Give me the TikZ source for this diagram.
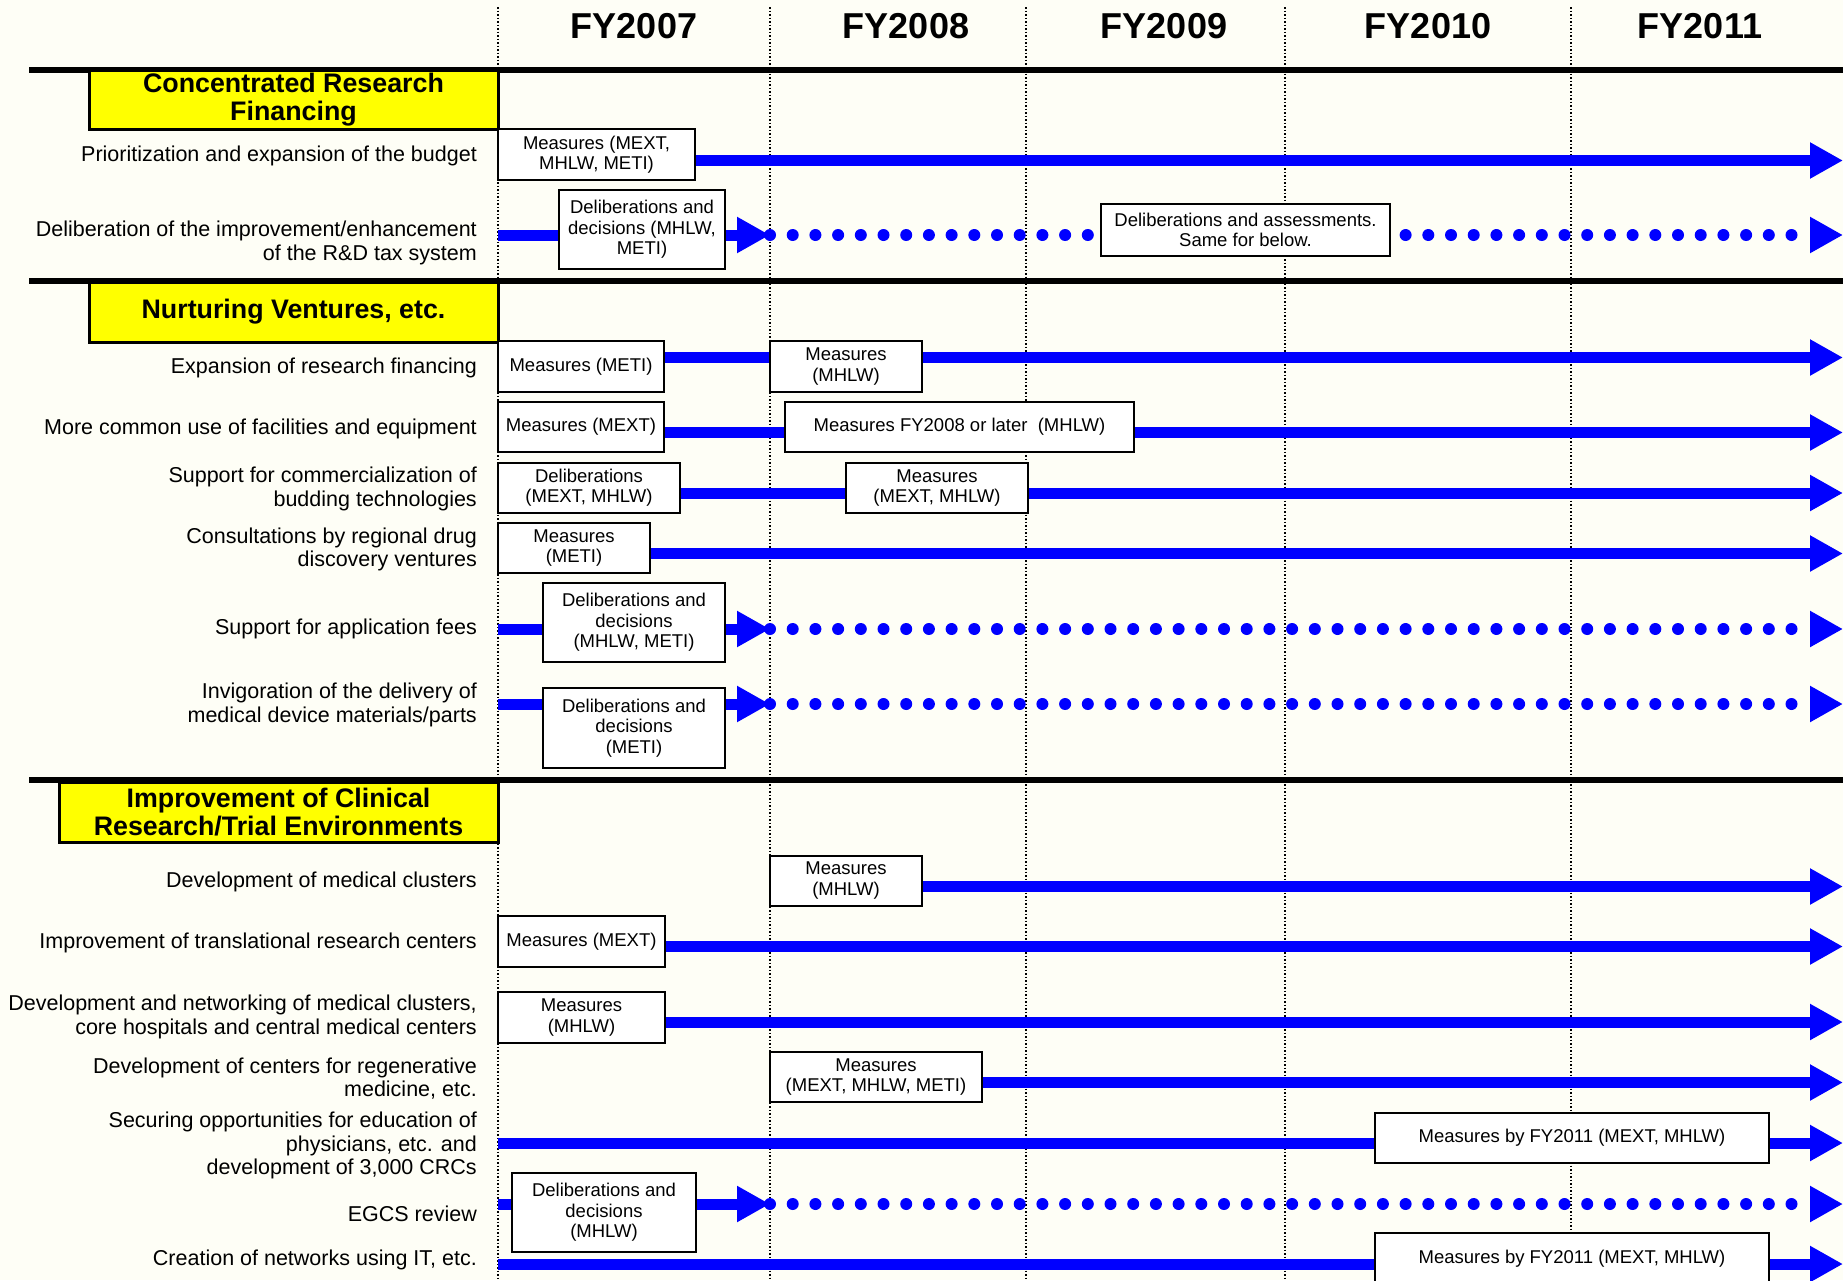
\documentclass[tikz,border=0pt]{standalone}
\usepackage{fontspec}
\setmainfont{Liberation Sans}
\usetikzlibrary{arrows.meta}
\pgfdeclarelayer{back}
\pgfdeclarelayer{grid}
\pgfdeclarelayer{lines}
\pgfsetlayers{back,grid,lines,main}
\definecolor{bgc}{RGB}{254,254,246}
\definecolor{barblue}{RGB}{0,0,255}
\definecolor{hdyellow}{RGB}{255,255,0}
\tikzset{
  lbl/.style={anchor=east, align=right, inner sep=0pt, font=\fontsize{21.5}{23.3}\selectfont},
  mbox/.style={draw=black, line width=2pt, fill=white, align=center, inner sep=0pt, font=\fontsize{18.5}{20.4}\selectfont},
  hdr/.style={draw=black, line width=3pt, fill=hdyellow, align=center, inner sep=0pt, font=\fontsize{26.8}{28}\selectfont\bfseries},
  yr/.style={inner sep=0pt, font=\fontsize{36}{38}\selectfont\bfseries},
  bar/.style={barblue, line width=11pt},
  dotbar/.style={barblue, line width=12pt, line cap=round, dash pattern=on 0pt off 22.7pt},
  tipA/.style={-{Triangle[length=33pt,width=34pt]}},
  griddot/.style={black, line width=1.3pt, dash pattern=on 1.5pt off 2pt},
  sepline/.style={black, line width=6pt},
}
\begin{document}
\begin{tikzpicture}[x=1pt,y=-1pt]
\useasboundingbox (0,0) rectangle (1843,1280);
\begin{pgfonlayer}{back}
\fill[bgc] (0,0) rectangle (1843,1280);
\end{pgfonlayer}

% year headings
\node[yr] (y07) at (634,26) {FY2007};
\node[yr] (y08) at (906,26) {FY2008};
\node[yr] (y09) at (1164,26) {FY2009};
\node[yr] (y10) at (1428,26) {FY2010};
\node[yr] (y11) at (1700,26) {FY2011};

% grid coordinates
\coordinate (g1) at (498,7);
\coordinate (g2) at (770,7);
\coordinate (g3) at (1026,7);
\coordinate (g4) at (1285,7);
\coordinate (g5) at (1571,7);
\begin{pgfonlayer}{grid}
\foreach \g in {g1,g2,g3,g4,g5} \draw[griddot] (\g) -- ++(0,1273);
\end{pgfonlayer}

% section separators
\coordinate (k1l) at (29,69.5);  \coordinate (k1r) at (1843,69.5);
\coordinate (k2l) at (29,280.5); \coordinate (k2r) at (1843,280.5);
\coordinate (k3l) at (29,779.5); \coordinate (k3r) at (1843,779.5);
\begin{pgfonlayer}{lines}
\draw[sepline] (k1l) -- (k1r);
\draw[sepline] (k2l) -- (k2r);
\draw[sepline] (k3l) -- (k3r);
\end{pgfonlayer}

% section headers
\node[hdr, minimum width=409pt, minimum height=59pt] (h1) at (293.5,99.5) {Concentrated Research\\Financing};
\node[hdr, minimum width=409pt, minimum height=60pt] (h2) at (293.5,312) {Nurturing Ventures, etc.};
\node[hdr, minimum width=439pt, minimum height=60pt] (h3) at (278.5,812) {Improvement of Clinical\\Research/Trial Environments};

% row labels
\node[lbl] (l1) at (477,156) {Prioritization and expansion of the budget};
\node[lbl] (l2) at (477,243) {Deliberation of the improvement/enhancement\\of the R\&D tax system};
\node[lbl] (l3) at (477,368) {Expansion of research financing};
\node[lbl] (l4) at (477,429) {More common use of facilities and equipment};
\node[lbl] (l5) at (477,489) {Support for commercialization of\\budding technologies};
\node[lbl] (l6) at (477,549.5) {Consultations by regional drug\\discovery ventures};
\node[lbl] (l7) at (477,629) {Support for application fees};
\node[lbl] (l8) at (477,705) {Invigoration of the delivery of\\medical device materials/parts};
\node[lbl] (l9) at (477,882) {Development of medical clusters};
\node[lbl] (l10) at (477,943) {Improvement of translational research centers};
\node[lbl] (l11) at (477,1017) {Development and networking of medical clusters,\\core hospitals and central medical centers};
\node[lbl] (l12) at (477,1078.5) {Development of centers for regenerative\\medicine, etc.};
\node[lbl] (l13) at (477,1145.5) {Securing opportunities for education of\\physicians, etc. and\\development of 3,000 CRCs};
\node[lbl] (l14) at (477,1214) {EGCS review};
\node[lbl] (l15) at (477,1260) {Creation of networks using IT, etc.};

% boxes
\node[mbox, minimum width=197pt, minimum height=51pt] (a1) at (596.5,154.5) {Measures (MEXT,\\MHLW, METI)};
\node[mbox, minimum width=166pt, minimum height=79pt] (a2) at (642,229.5) {Deliberations and\\decisions (MHLW,\\METI)};
\node[mbox, minimum width=289pt, minimum height=52pt] (a3) at (1245.5,230) {Deliberations and assessments.\\Same for below.};

\node[mbox, minimum width=166pt, minimum height=51pt] (b1a) at (581,366.5) {Measures (METI)};
\node[mbox, minimum width=152pt, minimum height=51pt] (b1b) at (846,366.5) {Measures\\(MHLW)};
\node[mbox, minimum width=166pt, minimum height=50pt] (b2a) at (581,427) {Measures (MEXT)};
\node[mbox, minimum width=349pt, minimum height=50pt] (b2b) at (959.5,427) {Measures FY2008 or later~ (MHLW)};
\node[mbox, minimum width=182pt, minimum height=50pt] (b3a) at (589,488) {Deliberations\\(MEXT, MHLW)};
\node[mbox, minimum width=182pt, minimum height=50pt] (b3b) at (937,488) {Measures\\(MEXT, MHLW)};
\node[mbox, minimum width=152pt, minimum height=50pt] (b4) at (574,548) {Measures\\(METI)};
\node[mbox, minimum width=182pt, minimum height=79pt] (b5) at (634,622.5) {Deliberations and\\decisions\\(MHLW, METI)};
\node[mbox, minimum width=182pt, minimum height=80pt] (b6) at (634,728) {Deliberations and\\decisions\\(METI)};

\node[mbox, minimum width=152pt, minimum height=50pt] (c1) at (846,880.5) {Measures\\(MHLW)};
\node[mbox, minimum width=167pt, minimum height=51pt] (c2) at (581.5,941.5) {Measures (MEXT)};
\node[mbox, minimum width=167pt, minimum height=51pt] (c3) at (581.5,1017.5) {Measures\\(MHLW)};
\node[mbox, minimum width=212pt, minimum height=50pt] (c4) at (876,1077) {Measures\\(MEXT, MHLW, METI)};
\node[mbox, minimum width=394pt, minimum height=50pt] (c5) at (1572,1138) {Measures by FY2011 (MEXT, MHLW)};
\node[mbox, minimum width=184pt, minimum height=79pt] (c6) at (604,1212.5) {Deliberations and\\decisions\\(MHLW)};
\node[mbox, minimum width=394pt, minimum height=52pt] (c7) at (1572,1259) {Measures by FY2011 (MEXT, MHLW)};

% row end / start coordinates
\coordinate (e1) at (1843,160.5);
\coordinate (s2) at (498,235); \coordinate (m2) at (770,235); \coordinate (e2) at (1843,235);
\coordinate (e3) at (1843,357.5);
\coordinate (e4) at (1843,432.5);
\coordinate (e5) at (1843,493);
\coordinate (e6) at (1843,553.5);
\coordinate (s7) at (498,629); \coordinate (m7) at (770,629); \coordinate (e7) at (1843,629);
\coordinate (s8) at (498,704); \coordinate (m8) at (770,704); \coordinate (e8) at (1843,704);
\coordinate (e9) at (1843,886.5);
\coordinate (e10) at (1843,946.5);
\coordinate (e11) at (1843,1022);
\coordinate (e12) at (1843,1082.5);
\coordinate (s13) at (498,1143); \coordinate (e13) at (1843,1143);
\coordinate (s14) at (498,1204); \coordinate (m14) at (770,1204); \coordinate (e14) at (1843,1204);
\coordinate (s15) at (498,1264); \coordinate (e15) at (1843,1264);

\begin{pgfonlayer}{lines}
% section 1
\draw[bar,tipA] (a1.east |- e1) -- (e1);
\draw[bar] (s2) -- (a2.west |- s2);
\draw[bar,tipA] (a2.east |- s2) -- (m2);
\draw[dotbar,tipA] (m2) -- (e2);
% section 2
\draw[bar] (b1a.east |- e3) -- (b1b.west |- e3);
\draw[bar,tipA] (b1b.east |- e3) -- (e3);
\draw[bar] (b2a.east |- e4) -- (b2b.west |- e4);
\draw[bar,tipA] (b2b.east |- e4) -- (e4);
\draw[bar] (b3a.east |- e5) -- (b3b.west |- e5);
\draw[bar,tipA] (b3b.east |- e5) -- (e5);
\draw[bar,tipA] (b4.east |- e6) -- (e6);
\draw[bar] (s7) -- (b5.west |- s7);
\draw[bar,tipA] (b5.east |- s7) -- (m7);
\draw[dotbar,tipA] (m7) -- (e7);
\draw[bar] (s8) -- (b6.west |- s8);
\draw[bar,tipA] (b6.east |- s8) -- (m8);
\draw[dotbar,tipA] (m8) -- (e8);
% section 3
\draw[bar,tipA] (c1.east |- e9) -- (e9);
\draw[bar,tipA] (c2.east |- e10) -- (e10);
\draw[bar,tipA] (c3.east |- e11) -- (e11);
\draw[bar,tipA] (c4.east |- e12) -- (e12);
\draw[bar] (s13) -- (c5.west |- s13);
\draw[bar,tipA] (c5.east |- s13) -- (e13);
\draw[bar] (s14) -- (c6.west |- s14);
\draw[bar,tipA] (c6.east |- s14) -- (m14);
\draw[dotbar,tipA] (m14) -- (e14);
\draw[bar] (s15) -- (c7.west |- s15);
\draw[bar,tipA] (c7.east |- s15) -- (e15);
\end{pgfonlayer}
\end{tikzpicture}
\end{document}
